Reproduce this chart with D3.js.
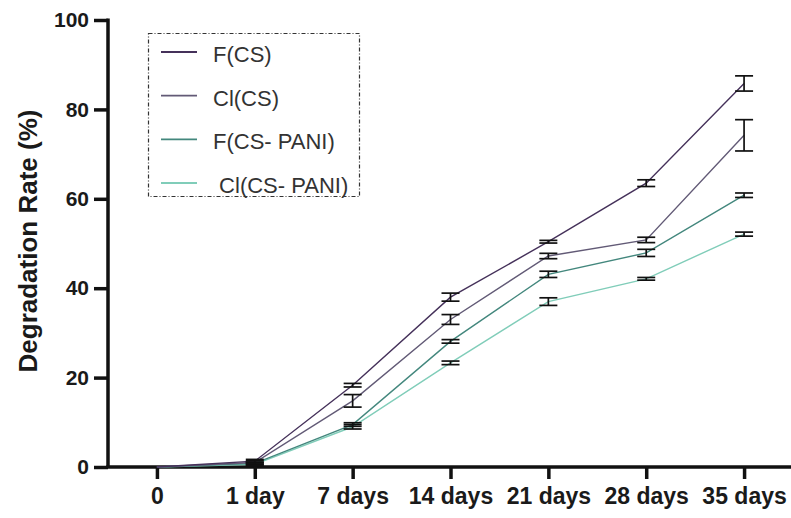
<!DOCTYPE html>
<html>
<head>
<meta charset="utf-8">
<script src="https://cdn.jsdelivr.net/npm/d3@7"></script>
<style>
  * { margin: 0; padding: 0; }
  body { background: #fff; width: 791px; height: 518px; overflow: hidden; }
  svg { display: block; font-family: 'Liberation Sans', Arial, sans-serif; }
</style>
</head>
<body>
<svg id="chart" width="791" height="518"></svg>
<script>
const categories = ["0", "1 day", "7 days", "14 days", "21 days", "28 days", "35 days"];
const seriesNames = ["F(CS)", "Cl(CS)", "F(CS- PANI)", " Cl(CS- PANI)"];
const seriesColors = ["#45315a", "#625a76", "#43877d", "#80cdb9"];
const fCS = [0, 1.3, 18.3, 38.0, 50.4, 63.5, 85.8];
const fCSErr = [0, 0.4, 0.4, 0.9, 0.3, 0.75, 1.7];
const clCS = [0, 1.0, 14.8, 33.0, 47.2, 50.8, 74.2];
const clCSErr = [0, 0.4, 1.4, 1.1, 0.6, 0.6, 3.5];
const fPani = [0, 0.8, 9.5, 28.1, 43.1, 47.9, 60.8];
const fPaniErr = [0, 0.3, 0.4, 0.4, 0.7, 0.8, 0.5];
const clPani = [0, 0.6, 9.0, 23.3, 37.0, 42.1, 52.1];
const clPaniErr = [0, 0.3, 0.5, 0.4, 0.85, 0.3, 0.45];
const yTicks = [0, 20, 40, 60, 80, 100];

const series = [
  { name: seriesNames[0], color: seriesColors[0], values: fCS, err: fCSErr },
  { name: seriesNames[1], color: seriesColors[1], values: clCS, err: clCSErr },
  { name: seriesNames[2], color: seriesColors[2], values: fPani, err: fPaniErr },
  { name: seriesNames[3], color: seriesColors[3], values: clPani, err: clPaniErr }
];

const svg = d3.select("#chart");
const x = d3.scalePoint().domain(categories).range([108, 793]).padding(0.5);
const y = d3.scaleLinear().domain([0, 100]).range([467, 20]);

// axes
const yAxis = svg.append("g").attr("transform", "translate(108,0)")
  .call(d3.axisLeft(y).tickValues(yTicks).tickSize(14).tickPadding(5));
const xAxis = svg.append("g").attr("transform", "translate(0,467)")
  .call(d3.axisBottom(x).tickSize(12).tickPadding(9));
[yAxis, xAxis].forEach(a => {
  a.select(".domain").attr("stroke", "#111").attr("stroke-width", 3.5);
  a.selectAll(".tick line").attr("stroke", "#111").attr("stroke-width", 3.5);
  a.selectAll(".tick text").attr("fill", "#1a1a1a").attr("font-weight", "bold");
});
yAxis.selectAll(".tick text").attr("font-size", 21);
xAxis.selectAll(".tick text").attr("font-size", 23);
yAxis.select(".domain").attr("d", "M0,467V18.5");
xAxis.select(".domain").attr("d", "M106.3,0H791");

svg.append("text")
  .attr("transform", "translate(37,241) rotate(-90)")
  .attr("text-anchor", "middle")
  .attr("font-size", 26).attr("font-weight", "bold").attr("fill", "#1a1a1a")
  .text("Degradation Rate (%)");

// lines
const line = d3.line().x((d, i) => x(categories[i])).y(d => y(d));
series.slice().reverse().forEach(s => {
  svg.append("path").datum(s.values)
    .attr("fill", "none").attr("stroke", s.color).attr("stroke-width", 1.4)
    .attr("d", line);
});

// error bars
series.forEach(s => {
  const g = svg.append("g").attr("stroke", "#111").attr("stroke-width", 1.7);
  s.values.forEach((v, i) => {
    if (!s.err[i]) return;
    const cx = x(categories[i]);
    const y1 = y(v + s.err[i]), y2 = y(v - s.err[i]);
    g.append("line").attr("x1", cx).attr("x2", cx).attr("y1", y1).attr("y2", y2);
    g.append("line").attr("x1", cx - 9).attr("x2", cx + 9).attr("y1", y1).attr("y2", y1);
    g.append("line").attr("x1", cx - 9).attr("x2", cx + 9).attr("y1", y2).attr("y2", y2);
  });
});

// legend
const legend = svg.append("g");
legend.append("rect")
  .attr("x", 148.5).attr("y", 33.5).attr("width", 211).attr("height", 163)
  .attr("fill", "none").attr("stroke", "#333").attr("stroke-width", 1.2)
  .attr("stroke-dasharray", "4,2,1,2");
const legendY = d3.scalePoint().domain(seriesNames).range([52, 183]);
series.forEach(s => {
  const ly = legendY(s.name);
  legend.append("line").attr("x1", 161).attr("x2", 197).attr("y1", ly).attr("y2", ly)
    .attr("stroke", s.color).attr("stroke-width", 1.8);
  legend.append("text").attr("x", 213).attr("y", ly + 10)
    .attr("font-size", 22).attr("fill", "#333").attr("xml:space", "preserve")
    .style("white-space", "pre").text(s.name);
});
</script>
</body>
</html>
